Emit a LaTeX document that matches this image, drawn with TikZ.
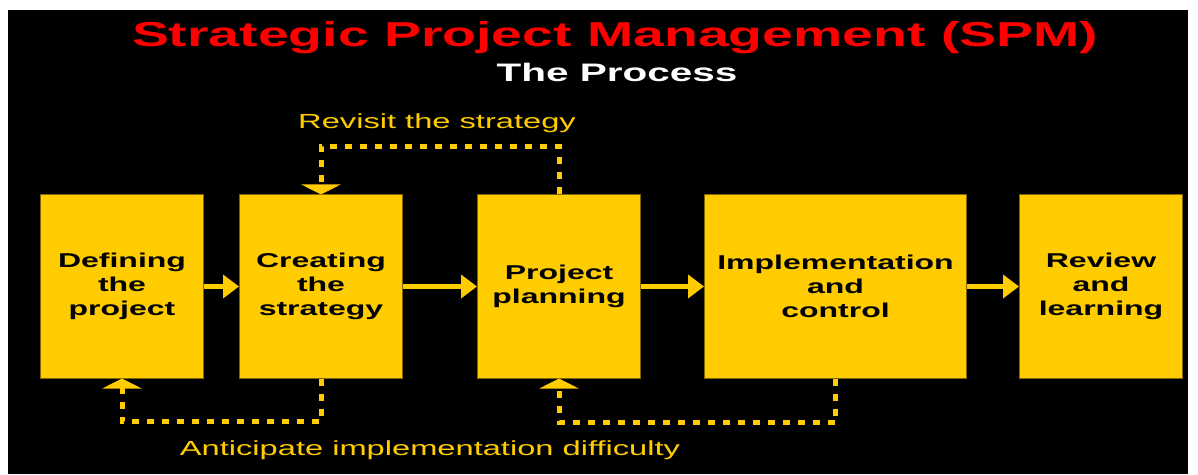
\documentclass[tikz,border=0pt]{standalone}
\usepackage{fontspec}
\setmainfont{Liberation Sans}[FakeStretch=1.6]
\usetikzlibrary{arrows.meta, positioning}

\definecolor{spmyellow}{HTML}{FFCC00}
\definecolor{spmedge}{HTML}{806600}
\definecolor{spmred}{HTML}{FF0000}

\begin{document}
\begin{tikzpicture}[x=1pt, y=1pt,
                stage/.style = {
                    rectangle,
                    fill=spmyellow, draw=spmedge,
                    line width=1pt, inner sep=0pt,
                    minimum width=163pt, minimum height=183pt,
                    text=black, text centered, align=center,
                    font=\bfseries\fontsize{20}{24}\selectfont
                },
                note/.style = {
                    text=spmyellow, inner sep=2pt,
                    font=\fontsize{20.4}{24}\selectfont
                },
                flow/.style = {
                    draw=spmyellow, line width=5pt,
                    -{Triangle[width=23pt, length=16pt]}
                },
                loopback/.style = {
                    draw=spmyellow, line width=5pt,
                    dash pattern=on 7pt off 8pt,
                    -{Triangle[width=39pt, length=10pt]}
                }
                ]

                \useasboundingbox (0,0) rectangle (1198,474);
                \fill[black] (8,0) rectangle (1188,464);

                \node[text=spmred, font=\bfseries\fontsize{34.6}{40}\selectfont] (title) at (615,436) {Strategic Project Management (SPM)};
                \node[text=white, font=\bfseries\fontsize{25.3}{30}\selectfont] (process) at (617,402) {The Process};

                \node[stage] (define) at (122,187.5) {Defining\\the\\project};
                \node[stage, right=35pt of define] (create) {Creating\\the\\strategy};
                \node[stage, right=74pt of create] (plan) {Project\\planning};
                \node[stage, minimum width=262pt, right=63pt of plan] (impl) {Implementation\\and\\control};
                \node[stage, right=52pt of impl] (review) {Review\\and\\learning};

                \node[note] (anticipate) at (430,24) {Anticipate implementation difficulty};

                \path[flow] (define)--(create);
                \path[flow] (create)--(plan);
                \path[flow] (plan)--(impl);
                \path[flow] (impl)--(review);

                \path[loopback] (plan.north) -- ++(0,48) -| node[note, pos=0.25, above=9pt, xshift=-3pt] (revisit) {Revisit the strategy} (create.north);
                \path[loopback] (create.south) -- ++(0,-43) -| (define.south);
                \path[loopback] (impl.south) -- ++(0,-44) -| (plan.south);
            \end{tikzpicture}
\end{document}
